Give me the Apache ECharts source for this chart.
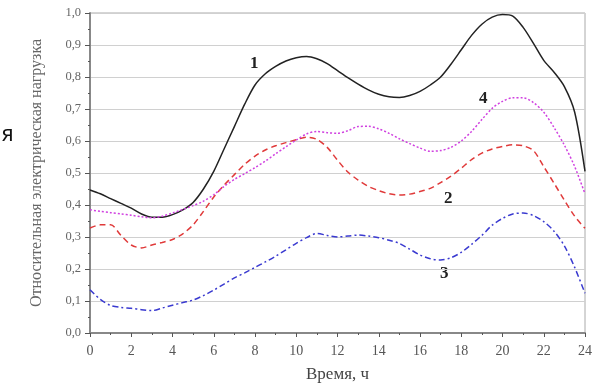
<!DOCTYPE html>
<html>
<head>
<meta charset="utf-8">
<script src="https://cdn.jsdelivr.net/npm/echarts@6/dist/echarts.min.js"></script>
<style>html,body{margin:0;padding:0;background:#fff;}#c{width:607px;height:383px;}</style>
</head>
<body>
<div id="c"></div>
<script>
const hours = [0,0.5,1,1.5,2,2.5,3,3.5,4,4.5,5,5.5,6,6.5,7,7.5,8,8.5,9,9.5,10,10.5,11,11.5,12,12.5,13,13.5,14,14.5,15,15.5,16,16.5,17,17.5,18,18.5,19,19.5,20,20.5,21,21.5,22,22.5,23,23.5,24];
const load1 = [0.447,0.435,0.42,0.405,0.39,0.372,0.362,0.362,0.37,0.385,0.408,0.45,0.505,0.575,0.645,0.715,0.775,0.81,0.833,0.85,0.86,0.864,0.857,0.842,0.82,0.798,0.778,0.76,0.746,0.738,0.736,0.742,0.755,0.775,0.80,0.84,0.885,0.93,0.965,0.987,0.995,0.99,0.955,0.905,0.852,0.815,0.77,0.69,0.505];
const load2 = [0.328,0.338,0.338,0.305,0.275,0.266,0.275,0.283,0.292,0.31,0.338,0.38,0.425,0.462,0.495,0.527,0.553,0.572,0.585,0.595,0.604,0.612,0.605,0.58,0.54,0.503,0.478,0.458,0.445,0.435,0.431,0.434,0.442,0.452,0.47,0.49,0.515,0.542,0.562,0.575,0.583,0.588,0.585,0.57,0.52,0.468,0.415,0.365,0.327];
const load3 = [0.135,0.105,0.086,0.08,0.077,0.073,0.07,0.078,0.087,0.095,0.103,0.117,0.134,0.153,0.172,0.188,0.205,0.222,0.24,0.26,0.28,0.298,0.311,0.305,0.30,0.303,0.306,0.303,0.298,0.29,0.28,0.262,0.244,0.232,0.228,0.235,0.252,0.277,0.305,0.337,0.358,0.372,0.375,0.367,0.348,0.318,0.272,0.205,0.124];
const load4 = [0.385,0.38,0.376,0.372,0.368,0.363,0.36,0.365,0.375,0.386,0.398,0.412,0.432,0.458,0.48,0.498,0.517,0.537,0.56,0.582,0.603,0.622,0.63,0.626,0.624,0.632,0.645,0.646,0.638,0.624,0.607,0.592,0.578,0.568,0.57,0.58,0.60,0.63,0.667,0.702,0.724,0.735,0.735,0.72,0.69,0.642,0.587,0.52,0.435];
const curveNames = ['1','2','3','4'];
const xTitle = 'Время, ч';
const yTitle = 'Относительная электрическая нагрузка';

const pair = a => hours.map((h,i)=>[h,a[i]]);
const serif = '"Liberation Serif","DejaVu Serif",serif';
const chart = echarts.init(document.getElementById('c'));
chart.setOption({
  animation:false,
  backgroundColor:'#fff',
  grid:{left:90,right:22,top:13,bottom:50,show:true,borderColor:'#aaa',borderWidth:1,
    containLabel:false,outerBoundsMode:'none'},
  xAxis:{type:'value',min:0,max:24,interval:2,
    name:xTitle,nameLocation:'middle',nameGap:33,
    nameTextStyle:{fontFamily:serif,fontSize:17,color:'#444'},
    axisLine:{lineStyle:{color:'#888',width:2}},
    axisTick:{show:true,length:4,lineStyle:{color:'#555'}},
    minorTick:{show:true,splitNumber:2,length:2,lineStyle:{color:'#555'}},
    splitLine:{show:false},
    axisLabel:{fontFamily:serif,fontSize:14,color:'#555',margin:11}},
  yAxis:{type:'value',min:0,max:1,interval:0.1,
    name:yTitle,nameLocation:'middle',nameGap:45,
    nameTextStyle:{fontFamily:serif,fontSize:16,color:'#666'},
    axisLine:{show:true,lineStyle:{color:'#888',width:2}},
    axisTick:{show:true,length:5,lineStyle:{color:'#555'}},
    minorTick:{show:true,splitNumber:2,length:2,lineStyle:{color:'#555'}},
    splitLine:{show:true,lineStyle:{color:'#d0d0d0',width:1}},
    axisLabel:{fontFamily:serif,fontSize:12.5,color:'#666',margin:9,
      formatter:v=>v.toFixed(1).replace('.',',')}},
  series:[
    {name:curveNames[0],type:'line',smooth:0.3,showSymbol:false,data:pair(load1),
      lineStyle:{color:'#222',width:1.5,type:'solid'}},
    {name:curveNames[1],type:'line',smooth:0.3,showSymbol:false,data:pair(load2),
      lineStyle:{color:'#e03a3a',width:1.5,type:[6,4]}},
    {name:curveNames[2],type:'line',smooth:0.3,showSymbol:false,data:pair(load3),
      lineStyle:{color:'#3a3ad0',width:1.5,type:[6,3,2,3]}},
    {name:curveNames[3],type:'line',smooth:0.3,showSymbol:false,data:pair(load4),
      lineStyle:{color:'#d040e0',width:1.5,type:[2,2]}}
  ],
  graphic:[
    {type:'text',left:250,top:55,style:{text:curveNames[0],font:'bold 17px '+serif,fill:'#222'}},
    {type:'text',left:444,top:190,style:{text:curveNames[1],font:'bold 17px '+serif,fill:'#222'}},
    {type:'text',left:440,top:265,style:{text:curveNames[2],font:'bold 17px '+serif,fill:'#222'}},
    {type:'text',left:479,top:90,style:{text:curveNames[3],font:'bold 17px '+serif,fill:'#222'}},
    {type:'text',x:1,y:136,style:{text:'я',font:'21px "DejaVu Sans",sans-serif',fill:'#111',verticalAlign:'middle'}}
  ]
});
</script>
</body>
</html>
